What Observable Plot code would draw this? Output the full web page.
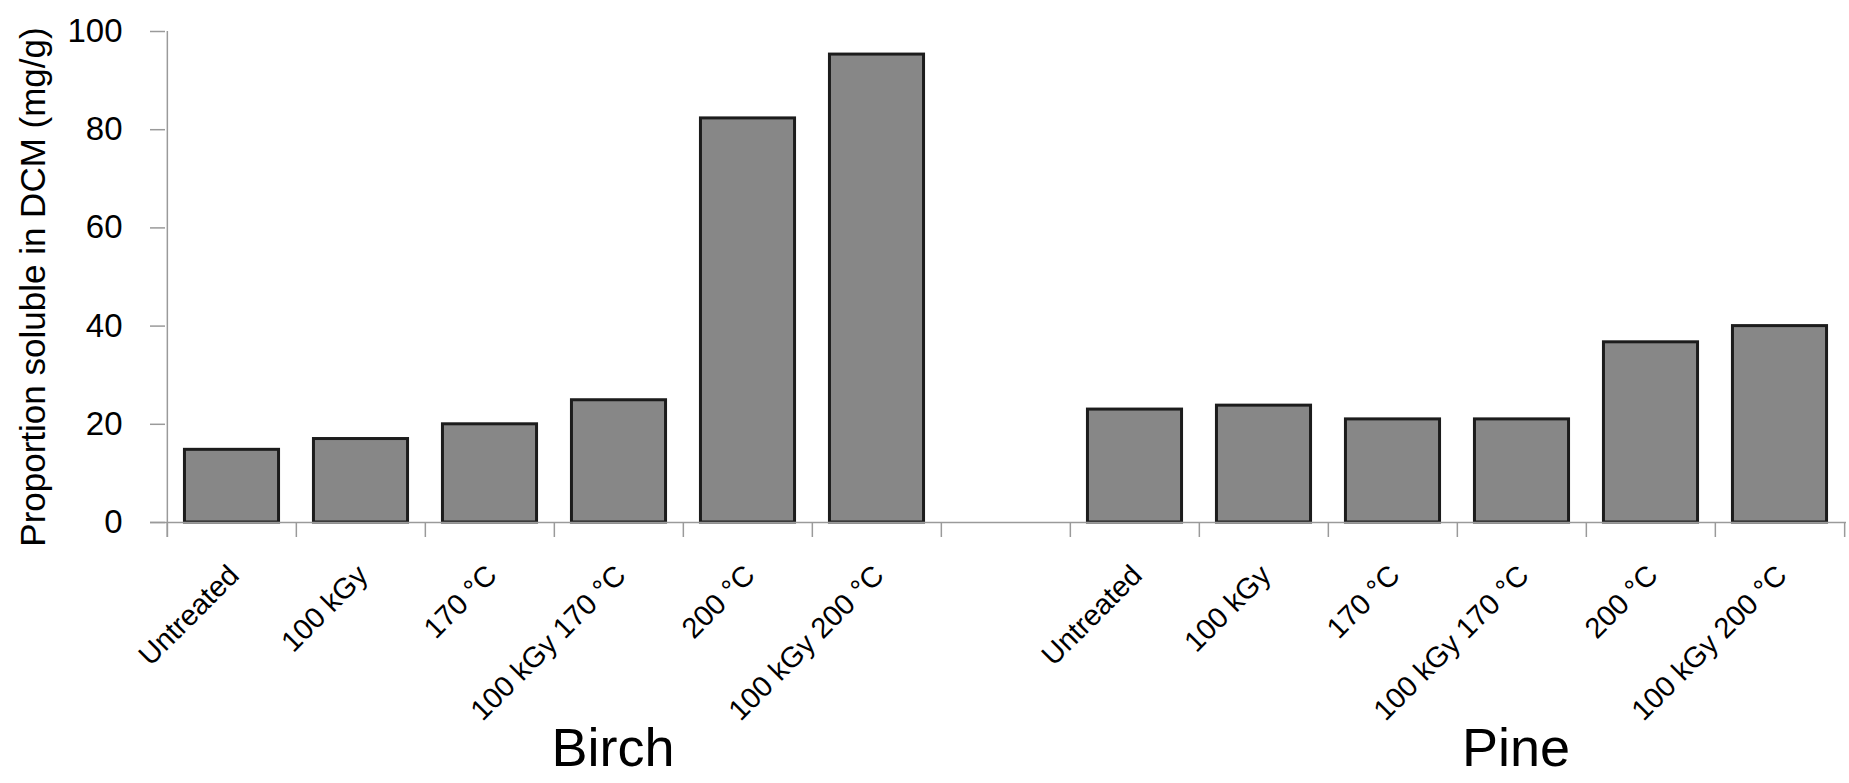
<!DOCTYPE html>
<html>
<head>
<meta charset="utf-8">
<script src="https://cdn.jsdelivr.net/npm/d3@7"></script>
<script src="https://cdn.jsdelivr.net/npm/@observablehq/plot@0.6"></script>
<style>
  html, body { margin: 0; padding: 0; background: #fff; }
  svg { display: block; }
</style>
</head>
<body>
<div id="chart"></div>
<script>
// ---- data ----
const treatments = ["Untreated", "100 kGy", "170 °C", "100 kGy 170 °C", "200 °C", "100 kGy 200 °C"];
const woods = ["Birch", "Pine"];
const birchValues = [14.8, 17, 20, 24.9, 82.3, 95.3];
const pineValues = [23, 23.8, 21, 21, 36.7, 40];
const yTicks = [0, 20, 40, 60, 80, 100];
const yLabel = "Proportion soluble in DCM (mg/g)";

// ---- table ----
const seriesByWood = {Birch: birchValues, Pine: pineValues};
const rows = [];
for (const w of woods) {
  treatments.forEach((t, i) => rows.push({wood: w, treatment: t, key: w + "|" + t, value: seriesByWood[w][i]}));
}
const gapKey = "gap";
const domain = [
  ...rows.filter(r => r.wood === "Birch").map(r => r.key),
  gapKey,
  ...rows.filter(r => r.wood === "Pine").map(r => r.key)
];

const W = 1849, H = 783, mL = 165, mR = 3, mT = 31, mB = 261;
const step = (W - mL - mR) / domain.length;
const font = "'Liberation Sans', Arial, Helvetica, sans-serif";
const axisColor = "#9a9a9a";

const chart = Plot.plot({
  width: W,
  height: H,
  marginLeft: mL,
  marginRight: mR,
  marginTop: mT,
  marginBottom: mB,
  style: {fontFamily: font, background: "#fff", color: "#000"},
  x: {domain, padding: 0, axis: null},
  y: {domain: [0, 100], axis: null},
  marks: [
    Plot.barY(rows, {
      x: "key", y: "value",
      fill: "#878787", stroke: "#1c1c1c", strokeWidth: 3,
      insetLeft: step * 0.135, insetRight: step * 0.135
    }),
    // x axis baseline (extends left as the 0 tick)
    Plot.ruleY([0], {stroke: axisColor, strokeWidth: 1.5, insetLeft: -15}),
    // y axis line
    Plot.ruleX([domain[0]], {y1: 100, y2: 0, dx: -step / 2, stroke: axisColor, strokeWidth: 1.5, insetBottom: -15}),
    // x ticks at band edges
    Plot.ruleX(domain, {y1: 0, y2: 0, dx: -step / 2, stroke: axisColor, strokeWidth: 1.5, insetBottom: -15}),
    Plot.ruleX([domain[domain.length - 1]], {y1: 0, y2: 0, dx: step / 2, stroke: axisColor, strokeWidth: 1.5, insetBottom: -15}),
    // y ticks + labels
    Plot.axisY({ticks: yTicks, tickSize: 15, tickPadding: 28, stroke: axisColor, strokeWidth: 1.5, fill: "#000", fontSize: 33, label: null, tickFormat: d => d}),
    // category labels
    Plot.text(rows, {
      x: "key", y: 0, text: "treatment",
      rotate: -45, textAnchor: "end", lineAnchor: "middle",
      dx: 2, dy: 48, fontSize: 29, fill: "#000"
    }),
    // wood group labels
    Plot.text(woods, {
      x: w => w + "|" + treatments[3], y: 0, text: d => d,
      textAnchor: "middle", lineAnchor: "middle",
      dx: -6, dy: 226, fontSize: 54, fill: "#000"
    }),
    // y axis title
    Plot.text([yLabel], {
      frameAnchor: "left", rotate: -90, text: d => d,
      textAnchor: "middle", lineAnchor: "middle",
      dx: -132, dy: 10, fontSize: 35, fill: "#000"
    })
  ]
});
document.getElementById("chart").appendChild(chart);
</script>
</body>
</html>
